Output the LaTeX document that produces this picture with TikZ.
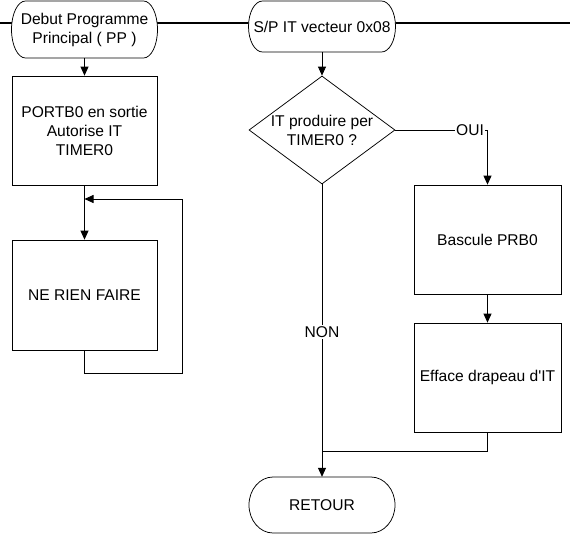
\documentclass[tikz,border=0pt]{standalone}
\usepackage{fontspec}
\newfontfamily\arialf{Liberation Sans}
\usetikzlibrary{arrows.meta,shapes.geometric}
\newcommand\termbox[7]{%
  \draw[termline] ({#2-#4/2+#6},{#3-#5/2}) -- ({#2+#4/2-#6},{#3-#5/2})
    arc[start angle=-90,end angle=90,x radius=#6,y radius={#5/2}]
    -- ({#2-#4/2+#6},{#3+#5/2})
    arc[start angle=90,end angle=270,x radius=#6,y radius={#5/2}] -- cycle;
  \node[termtext, minimum width=#4, minimum height=#5] (#1) at (#2,#3) {#7};
}
\begin{document}
\begin{tikzpicture}[x=1pt,y=-1pt,
  every node/.style={font=\arialf\fontsize{15.6pt}{19pt}\selectfont},
  termline/.style={draw=black, line width=0.75pt, fill=white},
  termtext/.style={inner sep=0pt, align=center},
  proc/.style={draw=black, line width=0.75pt, rectangle, minimum width=145, minimum height=110, align=center, inner sep=0pt},
  decision/.style={draw=black, line width=0.75pt, diamond, minimum width=146, minimum height=108, inner sep=0pt},
  conn/.style={draw=black, line width=0.75pt},
  arr/.style={conn, -{Triangle[length=9pt,width=8pt]}},
  lbl/.style={fill=white, inner sep=1.5pt}]
\useasboundingbox (0,0) rectangle (570,533);
\draw[line width=1.6pt] (0,22.7) -- (570,22.7);
\termbox{t1}{84.5}{29.5}{146}{57}{14}{\fontsize{15.6pt}{21.5pt}\selectfont Debut Programme\\Principal ( PP )}
\termbox{t2}{322}{26.5}{147}{51}{14}{\raisebox{-2.5pt}{S/P IT vecteur 0x08}}
\node[proc, minimum height=109] (b1) at (84.5,130.5) {PORTB0 en sortie\\Autorise IT\\TIMER0};
\node[proc] (b2) at (84.5,295) {NE RIEN FAIRE};
\node[decision] (d) at (322,130) {};
\node[align=center, inner sep=0pt] (dt) at (d.center) {IT produire per\\TIMER0 ?};
\node[proc, minimum width=147, minimum height=109] (b3) at (487.5,239.5) {Bascule PRB0};
\node[proc, minimum width=147, minimum height=109] (b4) at (487.5,377.5) {Efface drapeau d'IT};
\termbox{t3}{322}{505}{146}{56}{24}{RETOUR}
\coordinate (lj) at (84.5,199);
\coordinate (lr) at (182,373);
\coordinate (mj) at (322,451);
\draw[arr] (t1.south) -- (b1.north);
\draw[arr] (b1.south) -- (b2.north);
\draw[arr] (b2.south) |- (lr) |- (lj);
\draw[arr] (t2.south) -- (d.north);
\draw[arr] (d.east) -| node[lbl, pos=0.405] (oui) {OUI} (b3.north);
\draw[arr] (b3.south) -- (b4.north);
\draw[arr] (d.south) -- node[lbl, pos=0.505] (non) {NON} (t3.north);
\draw[conn] (b4.south) |- (mj);
\end{tikzpicture}
\end{document}
